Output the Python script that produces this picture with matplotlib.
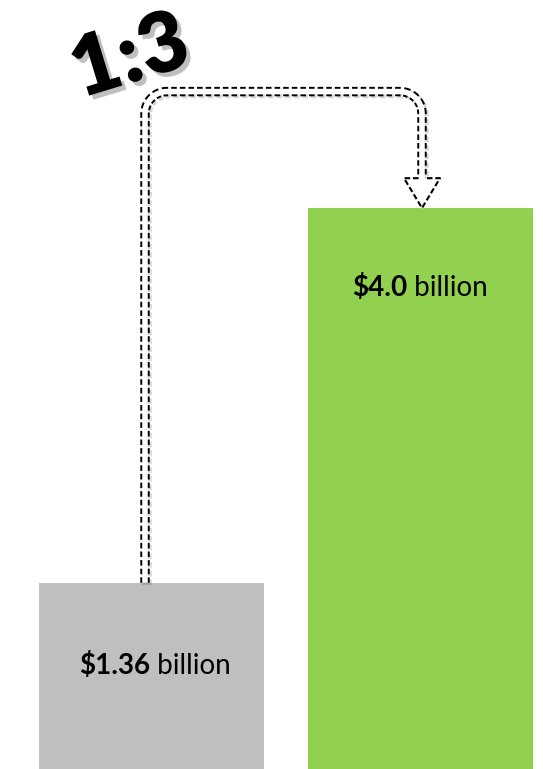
import numpy as np
import matplotlib.pyplot as plt
import matplotlib.patheffects as pe
from matplotlib.offsetbox import TextArea, HPacker, AnnotationBbox

plt.rcParams['font.family'] = ['Lato', 'DejaVu Sans']
plt.rcParams['lines.scale_dashes'] = False

# data
values = [1.36, 4.0]
value_text = ['$1.36', '$4.0']
unit_text = ' billion'
ratio_text = '1:3'
colors = ['#bfbfbf', '#92d050']

fig = plt.figure(figsize=(5.43, 7.69), dpi=100)
ax = fig.add_axes([0, 0, 1, 1])
ax.set_xlim(0, 543)
ax.set_ylim(0.049, 5.465)
ax.axis('off')

xs = [151.5, 420]
bars = ax.bar(xs, values, width=225, color=colors, zorder=1)

# labels inside bars
label_y = [values[0] * 0.57, values[1] - 0.56]
label_x = [xs[0] + 3, xs[1]]
for lx, ly, vt in zip(label_x, label_y, value_text):
    t1 = TextArea(vt, textprops=dict(fontsize=20, fontweight='bold', color='black', parse_math=False))
    t2 = TextArea(unit_text, textprops=dict(fontsize=20, color='black'))
    box = HPacker(children=[t1, t2], align='baseline', pad=0, sep=0)
    ab = AnnotationBbox(box, (lx, ly), frameon=False, box_alignment=(0.5, 0.5), zorder=5)
    ax.add_artist(ab)

# connector arrow from small bar to big bar
ky = 142.0
rx = 22.0
ry = rx / ky
xl = xs[0] - 6.5
xr = xs[1] + 2
ytop = values[1] + 0.82
yhead = values[1] + 0.21
ytip = values[1]

th1 = np.linspace(np.pi, np.pi / 2, 25)
th2 = np.linspace(np.pi / 2, 0, 25)
px = np.concatenate([[xl], xl + rx + rx * np.cos(th1), xr - rx + rx * np.cos(th2), [xr]])
py = np.concatenate([[values[0]], ytop - ry + ry * np.sin(th1), ytop - ry + ry * np.sin(th2), [yhead]])

ax.plot(px, py, color='black', lw=6.8, ls=(0, (4, 2.2)), dash_capstyle='butt',
        solid_capstyle='butt', zorder=3,
        path_effects=[pe.SimpleLineShadow(offset=(1.5, -1.5), alpha=0.15), pe.Normal()])
ax.plot(px, py, color='white', lw=4.0, solid_capstyle='butt', zorder=4)

hw = 18
ax.fill([xr - hw, xr, xr + hw], [yhead, ytip, yhead], color='white', zorder=4)
ax.plot([xr - 3.5, xr - hw, xr, xr + hw, xr + 3.5], [yhead, yhead, ytip, yhead, yhead],
        color='black', lw=1.5, ls=(0, (4, 2)), zorder=5)

ax.text(130, ytop + 0.24, ratio_text, rotation=17, fontsize=60, fontweight='heavy',
        ha='center', va='center', color='black', zorder=6,
        path_effects=[pe.withSimplePatchShadow(offset=(3, -3), shadow_rgbFace='gray', alpha=0.5)])

fig.savefig('out.png', dpi=100)
